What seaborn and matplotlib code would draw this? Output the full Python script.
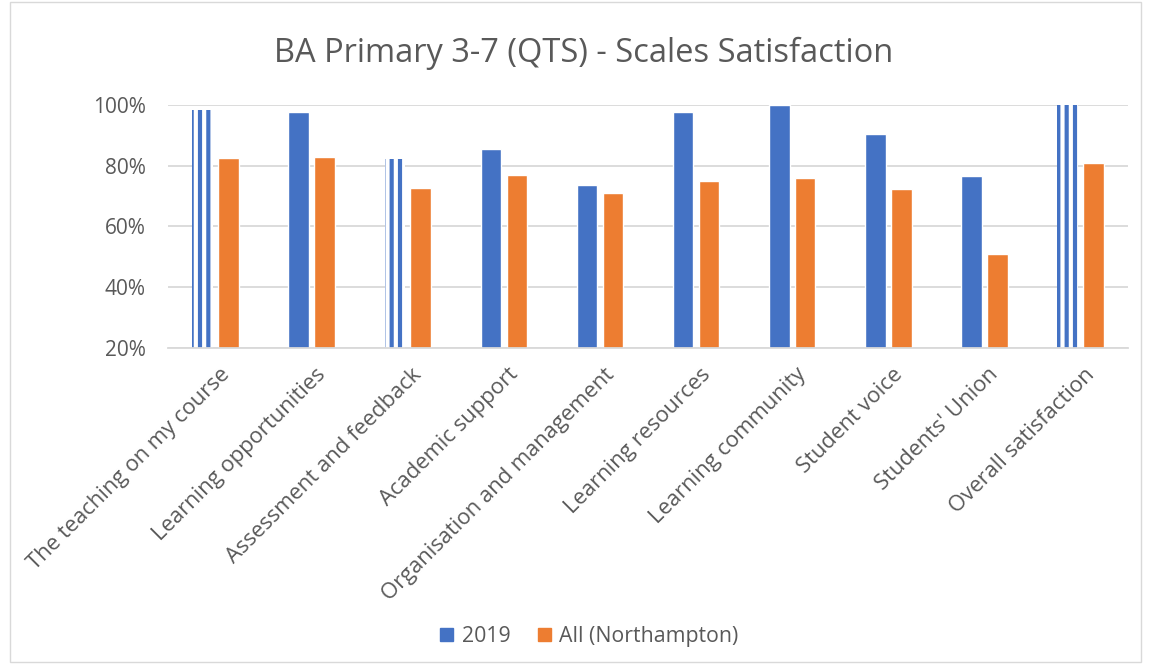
import matplotlib
matplotlib.use("Agg")
import matplotlib.pyplot as plt
import matplotlib.patches as mpatches
import matplotlib.transforms as mtransforms
import pandas as pd
import seaborn as sns

# Chart data
categories = [
    "The teaching on my course",
    "Learning opportunities",
    "Assessment and feedback",
    "Academic support",
    "Organisation and management",
    "Learning resources",
    "Learning community",
    "Student voice",
    "Students' Union",
    "Overall satisfaction",
]
series_names = ["2019", "All (Northampton)"]
values_2019 = [98.4, 97.6, 82.3, 85.7, 73.8, 97.6, 100.0, 90.5, 76.8, 100.0]
values_all = [82.6, 83.0, 72.7, 77.1, 71.0, 75.0, 76.0, 72.4, 50.8, 81.0]
y_ticks = [20, 40, 60, 80, 100]

# Styling
colors = ["#4472C4", "#ED7D31"]
text_color = "#595959"
grid_color = "#D9D9D9"
striped_bars = [0, 2, 9]  # rendering stripes visible on some 2019 bars

df = pd.DataFrame({
    "category": categories * 2,
    "series": [series_names[0]] * len(categories) + [series_names[1]] * len(categories),
    "value": values_2019 + values_all,
})

sns.set_theme(style="white")
plt.rcParams["font.family"] = ["Open Sans", "DejaVu Sans"]
plt.rcParams["hatch.linewidth"] = 3.0

fig = plt.figure(figsize=(11.49, 6.70), dpi=100)
ax = fig.add_axes([0.146, 0.481, 0.836, 0.362])

sns.barplot(
    data=df, x="category", y="value", hue="series",
    palette=colors, width=0.54, gap=0.2, ax=ax,
    saturation=1, legend=False,
)

# Re-create the white stripes seen on a few 2019 bars
for i in striped_bars:
    patch = ax.patches[i]
    patch.set_hatch("||")
    patch.set_edgecolor("white")
    patch.set_linewidth(0)

ax.set_ylim(20, 100)
ax.set_yticks(y_ticks)
ax.set_yticklabels([f"{t}%" for t in y_ticks], color=text_color, fontsize=15)
ax.yaxis.grid(True, color=grid_color, linewidth=1.3)
ax.set_axisbelow(True)
for side in ["top", "right", "left"]:
    ax.spines[side].set_visible(False)
ax.spines["bottom"].set_color(grid_color)
ax.spines["bottom"].set_linewidth(1.3)
ax.tick_params(axis="y", length=0, pad=16)
ax.set_xlim(-0.5, len(categories) - 0.5)

ax.set_xticks(range(len(categories)))
ax.set_xticklabels(categories, rotation=45, ha="right", va="center",
                   rotation_mode="anchor", color=text_color, fontsize=15.8)
ax.tick_params(axis="x", length=0, pad=17)
# nudge the slanted labels a little to the right, as in the original
shift = mtransforms.ScaledTranslation(11 / 100, 0, fig.dpi_scale_trans)
for lbl in ax.get_xticklabels():
    lbl.set_transform(lbl.get_transform() + shift)
ax.set_xlabel("")
ax.set_ylabel("")

fig.suptitle("BA Primary 3-7 (QTS) - Scales Satisfaction", x=0.508, y=0.945,
             fontsize=23.5, color=text_color)

handles = [mpatches.Patch(color=c, label=n) for c, n in zip(colors, series_names)]
fig.legend(handles=handles, loc="center", bbox_to_anchor=(0.513, 0.05), ncol=2,
           frameon=False, fontsize=15.3, labelcolor=text_color,
           handlelength=0.6, handleheight=0.6, columnspacing=1.3, handletextpad=0.4)

# Chart border
fig.add_artist(mpatches.Rectangle((0.009, 0.012), 0.984, 0.985, transform=fig.transFigure,
                                  fill=False, edgecolor=grid_color, linewidth=1.0))

fig.savefig("out.png", dpi=100)
